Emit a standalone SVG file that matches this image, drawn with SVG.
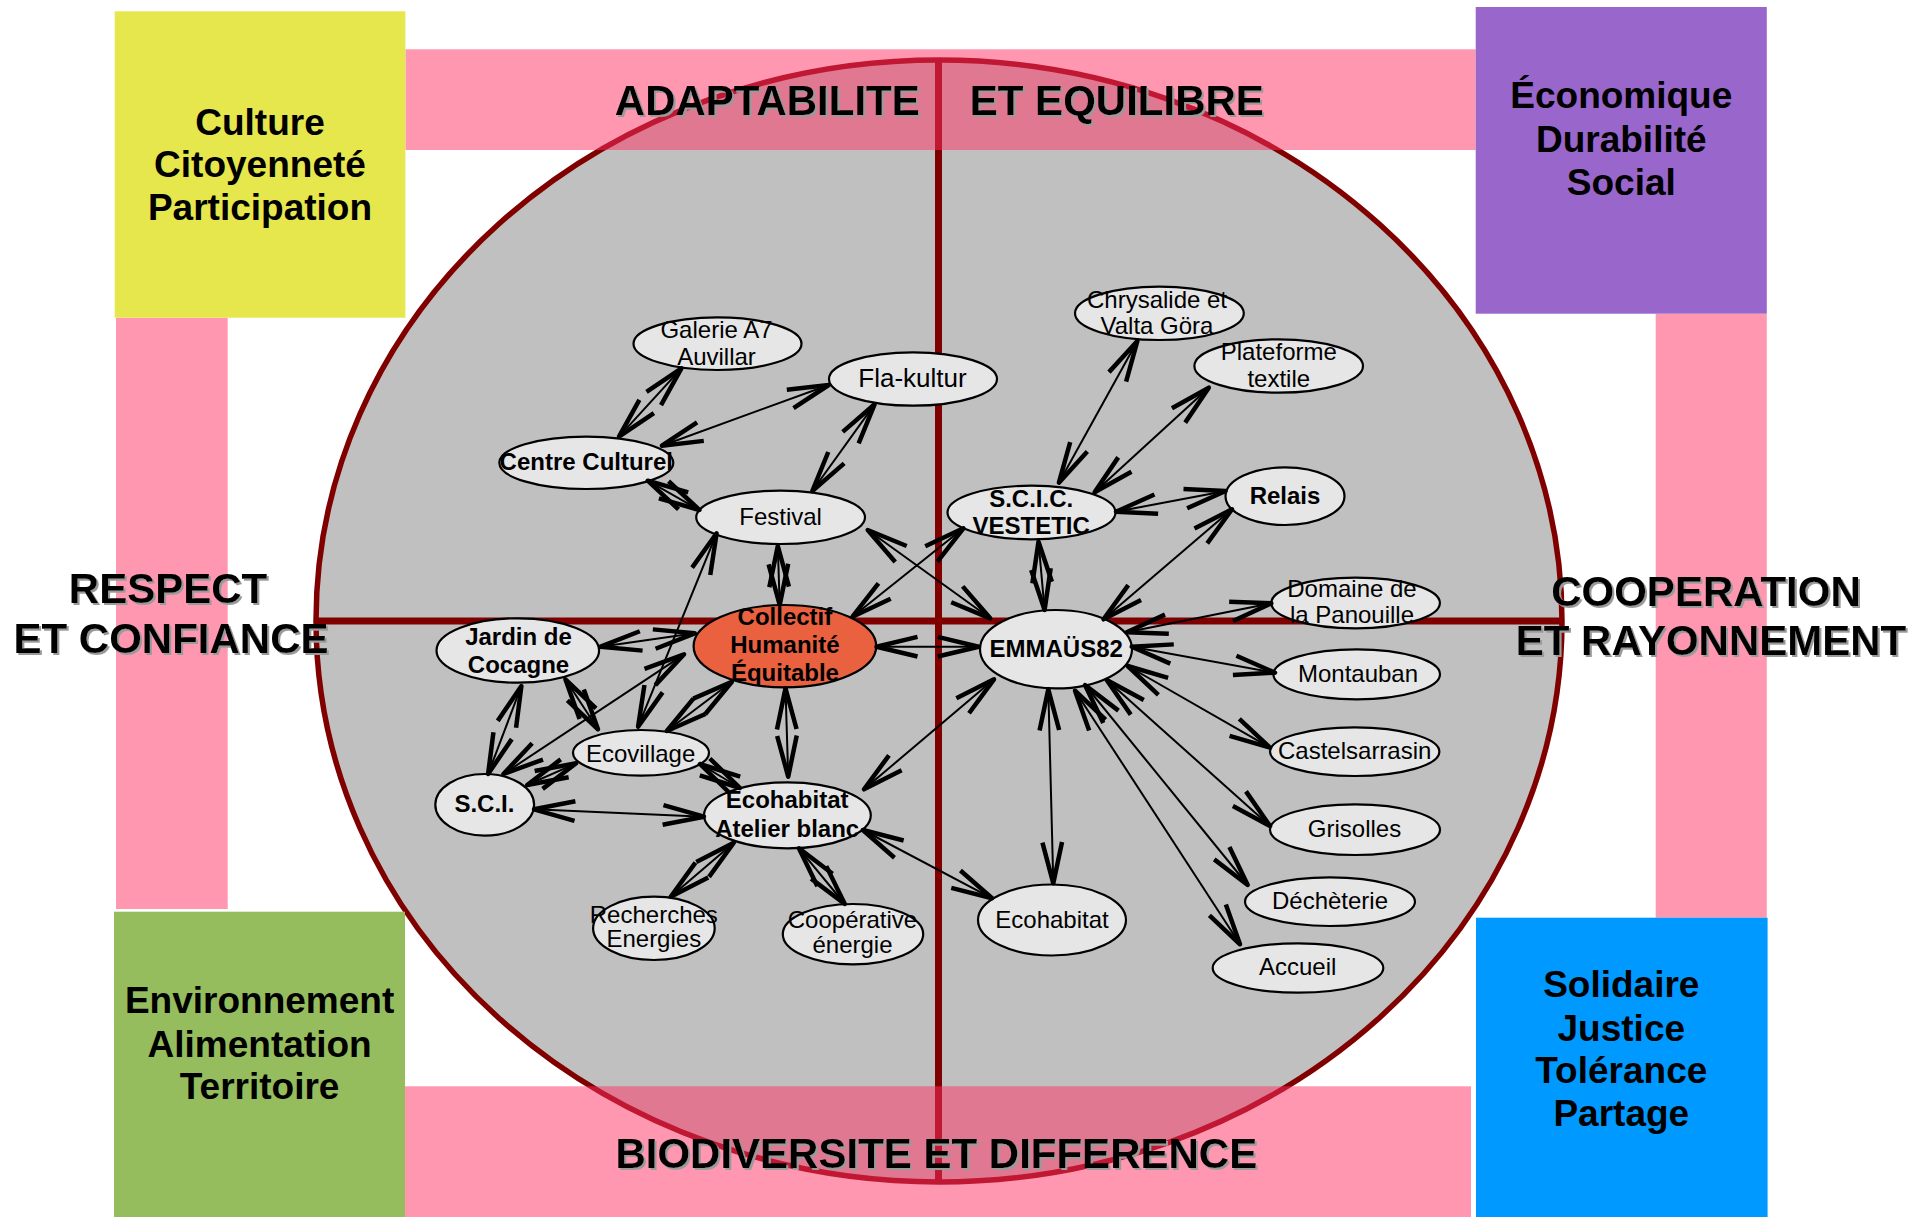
<svg xmlns="http://www.w3.org/2000/svg" width="1911" height="1217" viewBox="0 0 1911 1217">
<defs>
<style>
.band{fill:#ff2f63;fill-opacity:0.5}
.big{fill:#c0c0c0;stroke:#800000;stroke-width:5.5}
.axis{stroke:#800000;stroke-width:7}
.node ellipse{fill:#e6e6e6;stroke:#000;stroke-width:2.2}
.node.main ellipse{fill:#ea6140}
.t{font-family:"Liberation Sans",Arial,sans-serif;font-size:24px;text-anchor:middle;fill:#000}
.b{font-weight:bold}
.edge line{stroke:#000;stroke-width:2;fill:none;marker-start:url(#ah);marker-end:url(#ah)}
.hdr{font-family:"Liberation Sans",Arial,sans-serif;font-size:42px;font-weight:bold;text-anchor:middle;fill:#000;filter:url(#sh)}
.box{font-family:"Liberation Sans",Arial,sans-serif;font-size:37px;font-weight:bold;text-anchor:middle;fill:#000}
</style>
<marker id="ah" viewBox="-50 -15 55 30" refX="0" refY="0" markerWidth="55" markerHeight="30" markerUnits="userSpaceOnUse" orient="auto-start-reverse">
<path d="M-41,-9.8 L0,0 L-41,9.8" fill="none" stroke="#000" stroke-width="4.5" stroke-linejoin="round"/>
</marker>
<filter id="sh" x="-5%" y="-20%" width="110%" height="150%"><feDropShadow dx="2" dy="2" stdDeviation="0.4" flood-color="#9a9a9a" flood-opacity="1"/></filter>
</defs>
<rect x="0" y="0" width="1911" height="1217" fill="#ffffff"/>

<g id="frame">
<ellipse class="big" cx="939" cy="621" rx="623" ry="561"/>
<line class="axis" x1="316" y1="621" x2="1562" y2="621"/>
<line class="axis" x1="938.5" y1="60" x2="938.5" y2="1182"/>
</g>

<g id="nodes">
<g id="n-galerie" class="node"><ellipse cx="717.5" cy="343.7" rx="84" ry="26.3"/><text class="t" font-size="23"><tspan x="716.5" y="338">Galerie A7</tspan><tspan x="716.5" y="365">Auvillar</tspan></text></g>
<g id="n-flakultur" class="node"><ellipse cx="913" cy="379" rx="84" ry="26.7"/><text class="t" x="912.5" y="387.3" style="font-size:26px">Fla-kultur</text></g>
<g id="n-centre" class="node"><ellipse cx="586.3" cy="462.8" rx="87" ry="26.2"/><text class="t b" x="586.3" y="470">Centre Culturel</text></g>
<g id="n-festival" class="node"><ellipse cx="780.6" cy="517.3" rx="84.4" ry="26.7"/><text class="t" x="780.6" y="525">Festival</text></g>
<g id="n-chrysalide" class="node"><ellipse cx="1159.4" cy="313.3" rx="84.4" ry="26.7"/><text class="t"><tspan x="1157" y="308.3">Chrysalide et</tspan><tspan x="1157" y="334">Valta Göra</tspan></text></g>
<g id="n-plateforme" class="node"><ellipse cx="1278.7" cy="366" rx="84.3" ry="26.7"/><text class="t"><tspan x="1278.8" y="360">Plateforme</tspan><tspan x="1278.8" y="387.3">textile</tspan></text></g>
<g id="n-scic" class="node"><ellipse cx="1031.5" cy="512.5" rx="84" ry="26.8"/><text class="t b"><tspan x="1031.2" y="506.7">S.C.I.C.</tspan><tspan x="1031.2" y="534">VESTETIC</tspan></text></g>
<g id="n-relais" class="node"><ellipse cx="1285" cy="496.2" rx="59.5" ry="28.8"/><text class="t b" x="1285" y="504">Relais</text></g>
<g id="n-domaine" class="node"><ellipse cx="1355.6" cy="603" rx="84.3" ry="25.3"/><text class="t"><tspan x="1352" y="597.3">Domaine de</tspan><tspan x="1352" y="622.7">la Panouille</tspan></text></g>
<g id="n-montauban" class="node"><ellipse cx="1356.7" cy="674.3" rx="83.3" ry="25"/><text class="t" x="1358" y="681.7">Montauban</text></g>
<g id="n-castelsarrasin" class="node"><ellipse cx="1354.7" cy="751.7" rx="84.7" ry="24.3"/><text class="t" x="1354.7" y="759.3">Castelsarrasin</text></g>
<g id="n-grisolles" class="node"><ellipse cx="1355" cy="829.7" rx="85" ry="25.3"/><text class="t" x="1354.5" y="837.3">Grisolles</text></g>
<g id="n-decheterie" class="node"><ellipse cx="1330" cy="901.7" rx="85" ry="24.3"/><text class="t" x="1330" y="909.3">Déchèterie</text></g>
<g id="n-accueil" class="node"><ellipse cx="1298" cy="968" rx="85.3" ry="24.7"/><text class="t" x="1297.7" y="975">Accueil</text></g>
<g id="n-emmaus" class="node"><ellipse cx="1056" cy="649.2" rx="76" ry="39.2"/><text class="t b" x="1056.2" y="657.3">EMMAÜS82</text></g>
<g id="n-collectif" class="node main"><ellipse cx="784.9" cy="646.2" rx="91.3" ry="41.2"/><text class="t b"><tspan x="784.9" y="625">Collectif</tspan><tspan x="784.9" y="653.3">Humanité</tspan><tspan x="784.9" y="680.7">Équitable</tspan></text></g>
<g id="n-jardin" class="node"><ellipse cx="517.8" cy="650.5" rx="81.3" ry="32.2"/><text class="t b"><tspan x="518.5" y="645">Jardin de</tspan><tspan x="518.5" y="672.7">Cocagne</tspan></text></g>
<g id="n-ecovillage" class="node"><ellipse cx="641" cy="752.8" rx="68" ry="22.8"/><text class="t" x="640.6" y="761.7">Ecovillage</text></g>
<g id="n-sci" class="node"><ellipse cx="484.7" cy="804.8" rx="49.4" ry="30.8"/><text class="t b" x="484.4" y="811.7">S.C.I.</text></g>
<g id="n-atelier" class="node"><ellipse cx="787.4" cy="815.3" rx="83.4" ry="33"/><text class="t b"><tspan x="787.2" y="808.3">Ecohabitat</tspan><tspan x="787.2" y="836.7">Atelier blanc</tspan></text></g>
<g id="n-recherches" class="node"><ellipse cx="653.9" cy="928.3" rx="60.8" ry="31.7"/><text class="t"><tspan x="653.8" y="923.3">Recherches</tspan><tspan x="653.8" y="946.7">Energies</tspan></text></g>
<g id="n-cooperative" class="node"><ellipse cx="853" cy="934.2" rx="70.2" ry="30.2"/><text class="t"><tspan x="852.5" y="928.3">Coopérative</tspan><tspan x="852.5" y="953.3">énergie</tspan></text></g>
<g id="n-ecohabitat" class="node"><ellipse cx="1052" cy="920" rx="74" ry="35.5"/><text class="t" x="1052" y="928.3">Ecohabitat</text></g>
</g>

<g id="connectors" class="edge">
<line x1="681.4" y1="368.3" x2="619" y2="436.7"/>
<line x1="661.9" y1="445.7" x2="828.7" y2="385"/>
<line x1="874.6" y1="404.3" x2="812.3" y2="491"/>
<line x1="647.7" y1="480.7" x2="699.4" y2="510"/>
<line x1="777.8" y1="546" x2="779.7" y2="605"/>
<line x1="716.6" y1="533.3" x2="638.1" y2="726.7"/>
<line x1="867.7" y1="530" x2="990.2" y2="618.3"/>
<line x1="852.5" y1="616.7" x2="963.4" y2="528.3"/>
<line x1="1058.9" y1="482.7" x2="1137.4" y2="341"/>
<line x1="1094.6" y1="492.3" x2="1208.8" y2="387.7"/>
<line x1="1116" y1="511.7" x2="1225.6" y2="491"/>
<line x1="1038.5" y1="541.7" x2="1044.6" y2="610"/>
<line x1="1232" y1="509.3" x2="1103.5" y2="619.3"/>
<line x1="1271.3" y1="603.3" x2="1126.7" y2="632.3"/>
<line x1="876.5" y1="646.7" x2="978.7" y2="646.7"/>
<line x1="1131.7" y1="646.7" x2="1275" y2="672.7"/>
<line x1="1127.7" y1="666" x2="1270" y2="747.7"/>
<line x1="1106.7" y1="680" x2="1270" y2="826"/>
<line x1="1085" y1="685" x2="1247.7" y2="885"/>
<line x1="1075" y1="690.7" x2="1240" y2="944.3"/>
<line x1="1048.3" y1="689.3" x2="1053.3" y2="883.3"/>
<line x1="994" y1="679.3" x2="864" y2="789.3"/>
<line x1="862.8" y1="830" x2="992.1" y2="898.3"/>
<line x1="694.8" y1="633.3" x2="600.6" y2="646.7"/>
<line x1="731.9" y1="681.7" x2="666.8" y2="731"/>
<line x1="785.5" y1="688.3" x2="788.2" y2="776.7"/>
<line x1="684.1" y1="654.3" x2="503.4" y2="774"/>
<line x1="521.4" y1="686" x2="488.1" y2="774"/>
<line x1="565.4" y1="679.3" x2="598" y2="729.3"/>
<line x1="576.1" y1="763.3" x2="527.2" y2="785"/>
<line x1="700" y1="764" x2="740" y2="788"/>
<line x1="534" y1="809.3" x2="704" y2="816.7"/>
<line x1="733.8" y1="842.7" x2="670.7" y2="896.7"/>
<line x1="798.9" y1="848.3" x2="844.8" y2="904"/>
</g>

<g id="bands">
<rect class="band" x="405.4" y="49.3" width="1070.3" height="100.7"/>
<rect class="band" x="116" y="317.7" width="111.7" height="591.3"/>
<rect class="band" x="1655.7" y="313.7" width="111.1" height="604"/>
<rect class="band" x="405" y="1086.3" width="1066" height="130.7"/>
</g>

<g id="box-culture"><rect x="114.7" y="11.3" width="290.7" height="306.4" fill="#e6e64d"/><text class="box"><tspan x="260" y="135">Culture</tspan><tspan x="260" y="177">Citoyenneté</tspan><tspan x="260" y="220">Participation</tspan></text></g>
<g id="box-economique"><rect x="1475.7" y="7" width="291.1" height="306.7" fill="#9966cc"/><text class="box"><tspan x="1621.3" y="108.3">Économique</tspan><tspan x="1621.3" y="151.7">Durabilité</tspan><tspan x="1621.3" y="195">Social</tspan></text></g>
<g id="box-environnement"><rect x="114" y="911.7" width="291" height="305.3" fill="#95bd5e"/><text class="box"><tspan x="259.6" y="1013.3">Environnement</tspan><tspan x="259.6" y="1056.7">Alimentation</tspan><tspan x="259.6" y="1099.3">Territoire</tspan></text></g>
<g id="box-solidaire"><rect x="1476" y="917.7" width="291.6" height="299.3" fill="#0099ff"/><text class="box"><tspan x="1621.3" y="997.3">Solidaire</tspan><tspan x="1621.3" y="1040.7">Justice</tspan><tspan x="1621.3" y="1083.3">Tolérance</tspan><tspan x="1621.3" y="1126">Partage</tspan></text></g>

<g id="band-labels">
<text class="hdr" y="115"><tspan x="767.3">ADAPTABILITE</tspan><tspan x="1116.8">ET EQUILIBRE</tspan></text>
<text class="hdr" x="936.3" y="1168">BIODIVERSITE ET DIFFERENCE</text>
<text class="hdr"><tspan x="168" y="603">RESPECT</tspan><tspan x="171" y="652.7">ET CONFIANCE</tspan></text>
<text class="hdr"><tspan x="1706" y="606">COOPERATION</tspan><tspan x="1711" y="655">ET RAYONNEMENT</tspan></text>
</g>
</svg>
